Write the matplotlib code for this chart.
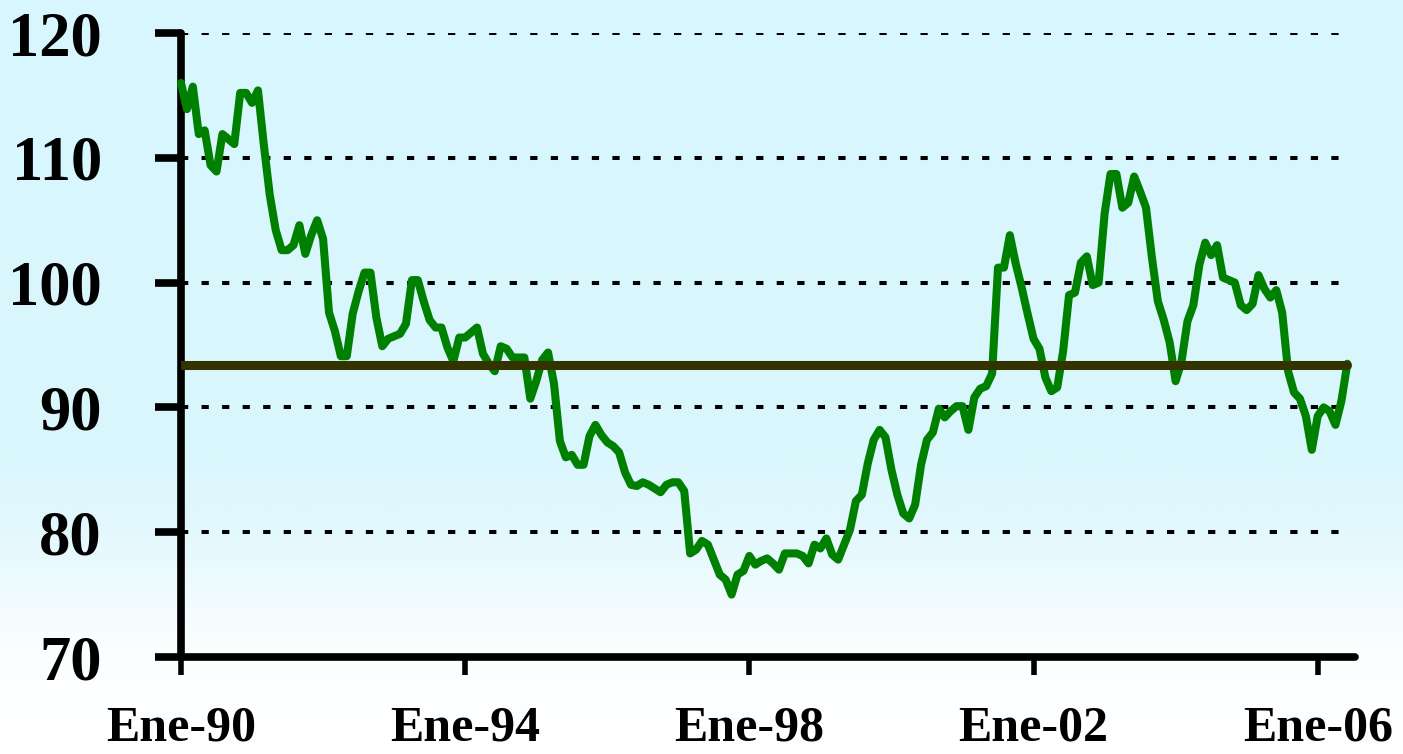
import numpy as np
import matplotlib
matplotlib.use("Agg")
import matplotlib.pyplot as plt
from matplotlib.colors import LinearSegmentedColormap

# monthly index, Jan 1990 .. Jun 2006
valores = [
    116.0, 113.9, 115.7, 111.9, 112.2, 109.4, 108.9, 111.9, 111.5, 111.1,
    115.2, 115.2, 114.4, 115.4, 111.0, 107.0, 104.2, 102.6, 102.6, 103.0,
    104.6, 102.3, 103.8, 105.0, 103.5, 97.6, 96.1, 94.1, 94.1, 97.5,
    99.3, 100.8, 100.8, 97.2, 94.9, 95.5, 95.7, 95.9, 96.7, 100.2,
    100.2, 98.5, 97.0, 96.4, 96.4, 94.8, 93.7, 95.6, 95.6, 96.0,
    96.4, 94.3, 93.5, 92.9, 94.9, 94.7, 94.0, 94.0, 94.0, 90.7,
    92.1, 93.8, 94.4, 91.9, 87.3, 86.0, 86.2, 85.4, 85.4, 87.7,
    88.6, 87.8, 87.2, 86.9, 86.4, 84.8, 83.8, 83.7, 84.0, 83.8,
    83.5, 83.2, 83.8, 84.0, 84.0, 83.3, 78.3, 78.6, 79.3, 79.0,
    77.8, 76.6, 76.2, 75.0, 76.6, 76.9, 78.1, 77.4, 77.7, 77.9,
    77.5, 77.0, 78.3, 78.3, 78.3, 78.1, 77.5, 79.0, 78.7, 79.5,
    78.2, 77.8, 79.0, 80.2, 82.5, 83.0, 85.5, 87.4, 88.2, 87.6,
    85.0, 83.0, 81.5, 81.1, 82.2, 85.4, 87.4, 88.0, 89.9, 89.2,
    89.7, 90.1, 90.1, 88.2, 90.8, 91.5, 91.7, 92.7, 101.2, 101.2,
    103.8, 101.5, 99.6, 97.5, 95.5, 94.7, 92.4, 91.3, 91.6, 94.5,
    99.0, 99.2, 101.6, 102.1, 99.8, 100.0, 105.5, 108.7, 108.7, 106.0,
    106.4, 108.5, 107.3, 106.0, 102.0, 98.5, 97.0, 95.2, 92.1, 93.7,
    96.9, 98.2, 101.4, 103.2, 102.2, 103.0, 100.4, 100.2, 100.0, 98.2,
    97.8, 98.3, 100.6, 99.5, 98.8, 99.4, 97.6, 92.9, 91.2, 90.7,
    89.3, 86.6, 89.3, 90.0, 89.7, 88.6, 90.5, 93.5,
]
promedio = 93.4
etiquetas_x = ["Ene-90", "Ene-94", "Ene-98", "Ene-02", "Ene-06"]
meses_tick = [0, 48, 96, 144, 192]
ticks_y = [70, 80, 90, 100, 110, 120]

W, H = 1403, 754
fig = plt.figure(figsize=(W / 100, H / 100), dpi=100)

# background gradient (light cyan to white at the bottom)
bg = fig.add_axes([0, 0, 1, 1], zorder=-10)
cmap = LinearSegmentedColormap.from_list(
    "fondo", [(0.0, "#ffffff"), (0.14, "#fbfeff"), (0.30, "#e2f8fd"),
              (0.40, "#daf7fd"), (1.0, "#d8f6fd")])
grad = np.linspace(0, 1, 256).reshape(-1, 1)
bg.imshow(grad, aspect="auto", cmap=cmap, origin="lower", extent=[0, 1, 0, 1])
bg.axis("off")

ax = fig.add_axes([181 / W, 1 - 657 / H, (1355 - 181) / W, (657 - 33) / H])
ax.patch.set_alpha(0)

x = np.arange(len(valores))
ax.plot(x, valores, color="#008000", lw=5.8, solid_joinstyle="round",
        solid_capstyle="round", zorder=3, clip_on=False)
ax.plot([0, len(valores) - 1], [promedio, promedio], color="#333300", lw=6.5,
        solid_capstyle="round", zorder=4)

ax.set_xlim(0, 198.3)
ax.set_ylim(70, 120)

for v in ticks_y[1:]:
    ax.plot([0, 197.5], [v, v], color="black", lw=2.9, ls=(0, (1.8, 3.3)), zorder=2)

for s in ["top", "right"]:
    ax.spines[s].set_visible(False)
for s in ["left", "bottom"]:
    ax.spines[s].set_linewidth(5.5)
    ax.spines[s].set_capstyle("round")

ax.set_yticks(ticks_y)
ax.set_xticks(meses_tick)
ax.set_xticklabels(etiquetas_x)
ax.tick_params(axis="y", direction="out", length=19, width=5.5, pad=38)
ax.tick_params(axis="x", direction="out", length=13, width=4, pad=22)
for t in ax.yaxis.get_major_ticks() + ax.xaxis.get_major_ticks():
    t.tick1line.set_solid_capstyle("round")

for lab in ax.get_yticklabels():
    lab.set_fontfamily("Liberation Serif")
    lab.set_fontweight("bold")
    lab.set_fontsize(45)
for lab in ax.get_xticklabels():
    lab.set_fontfamily("Liberation Serif")
    lab.set_fontweight("bold")
    lab.set_fontsize(36)

fig.savefig("out.png", dpi=100)
